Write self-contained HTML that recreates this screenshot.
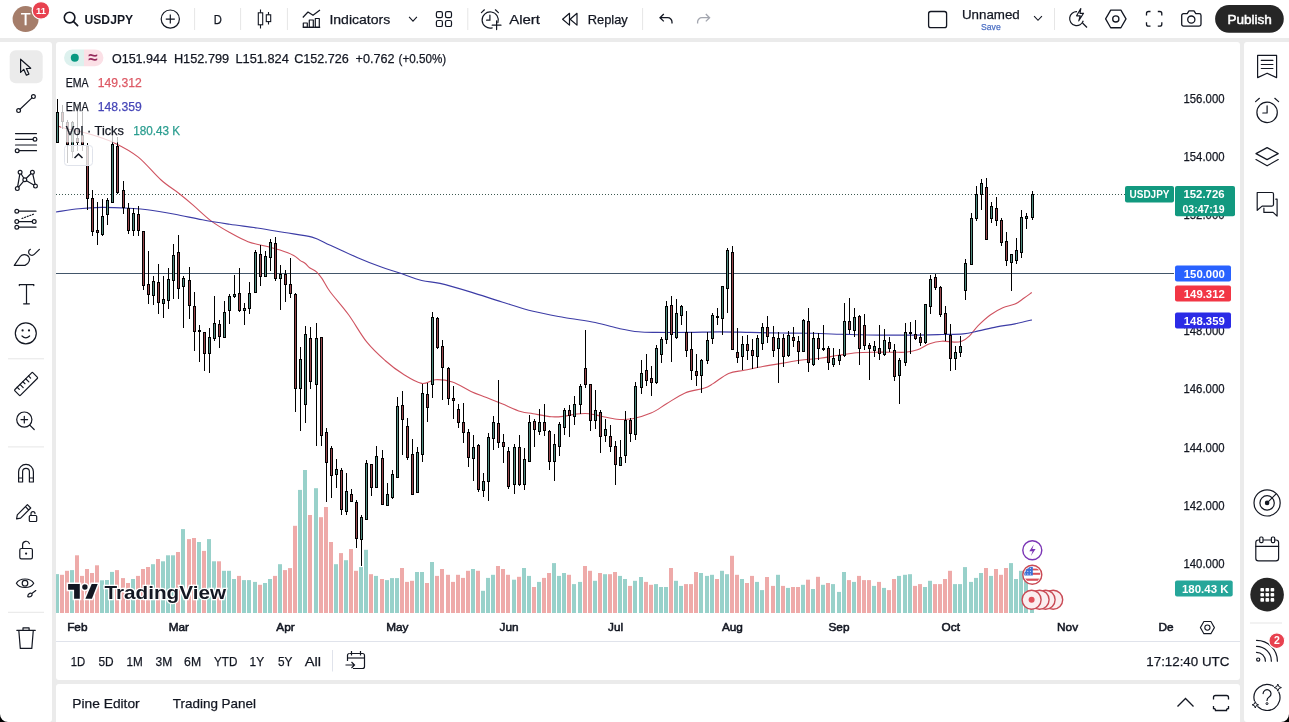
<!DOCTYPE html>
<html><head><meta charset="utf-8"><title>USDJPY chart</title>
<style>
html,body{margin:0;padding:0;background:#fff;width:1289px;height:722px;overflow:hidden}
svg{display:block}
text{font-family:'Liberation Sans', Arial, sans-serif;}
</style></head><body>
<svg width="1289" height="722" viewBox="0 0 1289 722">
<rect x="0" y="0" width="1289" height="722" fill="#ebebeb"/><rect x="0" y="0" width="1289" height="38" fill="#fff"/><rect x="0" y="42" width="52" height="680" fill="#fff" rx="3"/><rect x="0" y="42" width="8" height="680" fill="#fff"/><rect x="56" y="42" width="1184" height="638" fill="#fff" rx="3"/><rect x="56" y="684" width="1184" height="44" fill="#fff" rx="3"/><rect x="1244" y="42" width="45" height="680" fill="#fff" rx="3"/><rect x="1250" y="42" width="39" height="680" fill="#fff"/><defs><clipPath id="pane"><rect x="56" y="42" width="1118" height="571"/></clipPath><clipPath id="taxis"><rect x="56" y="613" width="1118" height="28"/></clipPath></defs><g clip-path="url(#pane)"><rect x="56" y="273" width="1119" height="1" fill="#42566a"/><line x1="56" y1="194.5" x2="1125" y2="194.5" stroke="#3d5a52" stroke-width="1" stroke-dasharray="1 2"/><rect x="55.0" y="574.1" width="4" height="38.9" fill="#98d1ca"/><rect x="60.0" y="574.8" width="4" height="38.2" fill="#eeaaa9"/><rect x="65.0" y="570.8" width="4" height="42.2" fill="#eeaaa9"/><rect x="70.0" y="570.1" width="4" height="42.9" fill="#98d1ca"/><rect x="75.0" y="555.3" width="4" height="57.7" fill="#eeaaa9"/><rect x="80.0" y="575.9" width="4" height="37.1" fill="#eeaaa9"/><rect x="85.0" y="569.0" width="4" height="44.0" fill="#eeaaa9"/><rect x="90.0" y="573.0" width="4" height="40.0" fill="#eeaaa9"/><rect x="95.0" y="565.3" width="4" height="47.7" fill="#eeaaa9"/><rect x="100.0" y="580.3" width="4" height="32.7" fill="#98d1ca"/><rect x="105.0" y="580.0" width="4" height="33.0" fill="#98d1ca"/><rect x="110.0" y="571.9" width="4" height="41.1" fill="#98d1ca"/><rect x="115.0" y="570.1" width="4" height="42.9" fill="#eeaaa9"/><rect x="121.0" y="578.1" width="4" height="34.9" fill="#eeaaa9"/><rect x="126.0" y="583.0" width="4" height="30.0" fill="#eeaaa9"/><rect x="131.0" y="579.0" width="4" height="34.0" fill="#98d1ca"/><rect x="136.0" y="575.9" width="4" height="37.1" fill="#eeaaa9"/><rect x="141.0" y="569.0" width="4" height="44.0" fill="#eeaaa9"/><rect x="146.0" y="567.0" width="4" height="46.0" fill="#eeaaa9"/><rect x="151.0" y="564.2" width="4" height="48.8" fill="#98d1ca"/><rect x="156.0" y="559.0" width="4" height="54.0" fill="#eeaaa9"/><rect x="161.0" y="561.3" width="4" height="51.7" fill="#98d1ca"/><rect x="166.0" y="555.3" width="4" height="57.7" fill="#98d1ca"/><rect x="171.0" y="555.3" width="4" height="57.7" fill="#98d1ca"/><rect x="176.0" y="552.0" width="4" height="61.0" fill="#eeaaa9"/><rect x="181.0" y="529.1" width="4" height="83.9" fill="#98d1ca"/><rect x="187.0" y="539.1" width="4" height="73.9" fill="#eeaaa9"/><rect x="192.0" y="538.0" width="4" height="75.0" fill="#eeaaa9"/><rect x="197.0" y="542.0" width="4" height="71.0" fill="#98d1ca"/><rect x="202.0" y="550.9" width="4" height="62.1" fill="#eeaaa9"/><rect x="207.0" y="539.1" width="4" height="73.9" fill="#98d1ca"/><rect x="212.0" y="561.3" width="4" height="51.7" fill="#98d1ca"/><rect x="217.0" y="561.3" width="4" height="51.7" fill="#eeaaa9"/><rect x="222.0" y="570.8" width="4" height="42.2" fill="#98d1ca"/><rect x="227.0" y="570.8" width="4" height="42.2" fill="#98d1ca"/><rect x="232.0" y="579.0" width="4" height="34.0" fill="#98d1ca"/><rect x="237.0" y="575.9" width="4" height="37.1" fill="#eeaaa9"/><rect x="242.0" y="580.1" width="4" height="32.9" fill="#98d1ca"/><rect x="247.0" y="580.1" width="4" height="32.9" fill="#98d1ca"/><rect x="253.0" y="581.9" width="4" height="31.1" fill="#98d1ca"/><rect x="258.0" y="584.8" width="4" height="28.2" fill="#eeaaa9"/><rect x="263.0" y="583.0" width="4" height="30.0" fill="#98d1ca"/><rect x="268.0" y="579.0" width="4" height="34.0" fill="#98d1ca"/><rect x="273.0" y="575.9" width="4" height="37.1" fill="#eeaaa9"/><rect x="278.0" y="564.2" width="4" height="48.8" fill="#98d1ca"/><rect x="283.0" y="570.1" width="4" height="42.9" fill="#eeaaa9"/><rect x="288.0" y="568.1" width="4" height="44.9" fill="#eeaaa9"/><rect x="293.0" y="525.8" width="4" height="87.2" fill="#eeaaa9"/><rect x="298.0" y="489.9" width="4" height="123.1" fill="#98d1ca"/><rect x="303.0" y="470.0" width="4" height="143.0" fill="#98d1ca"/><rect x="308.0" y="515.0" width="4" height="98.0" fill="#eeaaa9"/><rect x="314.0" y="488.2" width="4" height="124.8" fill="#98d1ca"/><rect x="319.0" y="517.2" width="4" height="95.8" fill="#eeaaa9"/><rect x="324.0" y="507.0" width="4" height="106.0" fill="#eeaaa9"/><rect x="329.0" y="542.0" width="4" height="71.0" fill="#eeaaa9"/><rect x="334.0" y="564.2" width="4" height="48.8" fill="#98d1ca"/><rect x="339.0" y="553.1" width="4" height="59.9" fill="#eeaaa9"/><rect x="344.0" y="560.2" width="4" height="52.8" fill="#98d1ca"/><rect x="349.0" y="549.1" width="4" height="63.9" fill="#eeaaa9"/><rect x="354.0" y="570.8" width="4" height="42.2" fill="#eeaaa9"/><rect x="359.0" y="567.1" width="4" height="45.9" fill="#98d1ca"/><rect x="364.0" y="549.8" width="4" height="63.2" fill="#98d1ca"/><rect x="369.0" y="574.2" width="4" height="38.8" fill="#eeaaa9"/><rect x="374.0" y="575.9" width="4" height="37.1" fill="#98d1ca"/><rect x="380.0" y="579.0" width="4" height="34.0" fill="#eeaaa9"/><rect x="385.0" y="580.1" width="4" height="32.9" fill="#98d1ca"/><rect x="390.0" y="578.1" width="4" height="34.9" fill="#98d1ca"/><rect x="395.0" y="578.1" width="4" height="34.9" fill="#98d1ca"/><rect x="400.0" y="568.0" width="4" height="45.0" fill="#eeaaa9"/><rect x="405.0" y="581.9" width="4" height="31.1" fill="#eeaaa9"/><rect x="410.0" y="580.8" width="4" height="32.2" fill="#eeaaa9"/><rect x="415.0" y="572.0" width="4" height="41.0" fill="#98d1ca"/><rect x="420.0" y="572.0" width="4" height="41.0" fill="#98d1ca"/><rect x="425.0" y="583.0" width="4" height="30.0" fill="#eeaaa9"/><rect x="430.0" y="562.0" width="4" height="51.0" fill="#98d1ca"/><rect x="435.0" y="575.9" width="4" height="37.1" fill="#eeaaa9"/><rect x="440.0" y="569.0" width="4" height="44.0" fill="#eeaaa9"/><rect x="446.0" y="574.8" width="4" height="38.2" fill="#eeaaa9"/><rect x="451.0" y="581.9" width="4" height="31.1" fill="#eeaaa9"/><rect x="456.0" y="574.8" width="4" height="38.2" fill="#eeaaa9"/><rect x="461.0" y="577.9" width="4" height="35.1" fill="#eeaaa9"/><rect x="466.0" y="570.8" width="4" height="42.2" fill="#eeaaa9"/><rect x="471.0" y="569.0" width="4" height="44.0" fill="#98d1ca"/><rect x="476.0" y="570.8" width="4" height="42.2" fill="#eeaaa9"/><rect x="481.0" y="590.8" width="4" height="22.2" fill="#98d1ca"/><rect x="486.0" y="577.9" width="4" height="35.1" fill="#98d1ca"/><rect x="491.0" y="574.8" width="4" height="38.2" fill="#98d1ca"/><rect x="496.0" y="566.0" width="4" height="47.0" fill="#eeaaa9"/><rect x="501.0" y="569.0" width="4" height="44.0" fill="#eeaaa9"/><rect x="506.0" y="574.8" width="4" height="38.2" fill="#eeaaa9"/><rect x="512.0" y="579.7" width="4" height="33.3" fill="#98d1ca"/><rect x="517.0" y="576.8" width="4" height="36.2" fill="#eeaaa9"/><rect x="522.0" y="568.0" width="4" height="45.0" fill="#98d1ca"/><rect x="527.0" y="575.9" width="4" height="37.1" fill="#98d1ca"/><rect x="532.0" y="587.0" width="4" height="26.0" fill="#eeaaa9"/><rect x="537.0" y="581.9" width="4" height="31.1" fill="#98d1ca"/><rect x="542.0" y="577.9" width="4" height="35.1" fill="#eeaaa9"/><rect x="547.0" y="573.0" width="4" height="40.0" fill="#eeaaa9"/><rect x="552.0" y="563.1" width="4" height="49.9" fill="#98d1ca"/><rect x="557.0" y="575.9" width="4" height="37.1" fill="#98d1ca"/><rect x="562.0" y="573.0" width="4" height="40.0" fill="#98d1ca"/><rect x="567.0" y="574.8" width="4" height="38.2" fill="#eeaaa9"/><rect x="572.0" y="584.1" width="4" height="28.9" fill="#98d1ca"/><rect x="578.0" y="581.9" width="4" height="31.1" fill="#98d1ca"/><rect x="583.0" y="566.0" width="4" height="47.0" fill="#eeaaa9"/><rect x="588.0" y="570.8" width="4" height="42.2" fill="#eeaaa9"/><rect x="593.0" y="580.8" width="4" height="32.2" fill="#98d1ca"/><rect x="598.0" y="573.0" width="4" height="40.0" fill="#eeaaa9"/><rect x="603.0" y="574.2" width="4" height="38.8" fill="#98d1ca"/><rect x="608.0" y="574.2" width="4" height="38.8" fill="#eeaaa9"/><rect x="613.0" y="572.0" width="4" height="41.0" fill="#eeaaa9"/><rect x="618.0" y="575.9" width="4" height="37.1" fill="#98d1ca"/><rect x="623.0" y="579.0" width="4" height="34.0" fill="#98d1ca"/><rect x="628.0" y="585.9" width="4" height="27.1" fill="#eeaaa9"/><rect x="633.0" y="580.8" width="4" height="32.2" fill="#98d1ca"/><rect x="639.0" y="577.0" width="4" height="36.0" fill="#98d1ca"/><rect x="644.0" y="581.9" width="4" height="31.1" fill="#eeaaa9"/><rect x="649.0" y="584.8" width="4" height="28.2" fill="#eeaaa9"/><rect x="654.0" y="584.1" width="4" height="28.9" fill="#98d1ca"/><rect x="659.0" y="587.0" width="4" height="26.0" fill="#98d1ca"/><rect x="664.0" y="587.0" width="4" height="26.0" fill="#98d1ca"/><rect x="669.0" y="568.0" width="4" height="45.0" fill="#eeaaa9"/><rect x="674.0" y="580.8" width="4" height="32.2" fill="#98d1ca"/><rect x="679.0" y="585.9" width="4" height="27.1" fill="#98d1ca"/><rect x="684.0" y="584.1" width="4" height="28.9" fill="#eeaaa9"/><rect x="689.0" y="584.1" width="4" height="28.9" fill="#eeaaa9"/><rect x="694.0" y="572.0" width="4" height="41.0" fill="#eeaaa9"/><rect x="699.0" y="573.0" width="4" height="40.0" fill="#98d1ca"/><rect x="705.0" y="575.9" width="4" height="37.1" fill="#98d1ca"/><rect x="710.0" y="574.8" width="4" height="38.2" fill="#98d1ca"/><rect x="715.0" y="579.0" width="4" height="34.0" fill="#eeaaa9"/><rect x="720.0" y="570.8" width="4" height="42.2" fill="#98d1ca"/><rect x="725.0" y="574.2" width="4" height="38.8" fill="#98d1ca"/><rect x="730.0" y="555.8" width="4" height="57.2" fill="#eeaaa9"/><rect x="735.0" y="574.8" width="4" height="38.2" fill="#eeaaa9"/><rect x="740.0" y="579.0" width="4" height="34.0" fill="#98d1ca"/><rect x="745.0" y="583.0" width="4" height="30.0" fill="#eeaaa9"/><rect x="750.0" y="575.9" width="4" height="37.1" fill="#eeaaa9"/><rect x="755.0" y="581.9" width="4" height="31.1" fill="#98d1ca"/><rect x="760.0" y="590.1" width="4" height="22.9" fill="#98d1ca"/><rect x="765.0" y="577.0" width="4" height="36.0" fill="#eeaaa9"/><rect x="771.0" y="585.9" width="4" height="27.1" fill="#eeaaa9"/><rect x="776.0" y="574.8" width="4" height="38.2" fill="#98d1ca"/><rect x="781.0" y="585.9" width="4" height="27.1" fill="#eeaaa9"/><rect x="786.0" y="587.9" width="4" height="25.1" fill="#98d1ca"/><rect x="791.0" y="587.0" width="4" height="26.0" fill="#eeaaa9"/><rect x="796.0" y="587.0" width="4" height="26.0" fill="#eeaaa9"/><rect x="801.0" y="584.8" width="4" height="28.2" fill="#98d1ca"/><rect x="806.0" y="579.7" width="4" height="33.3" fill="#eeaaa9"/><rect x="811.0" y="589.0" width="4" height="24.0" fill="#98d1ca"/><rect x="816.0" y="576.8" width="4" height="36.2" fill="#eeaaa9"/><rect x="821.0" y="584.8" width="4" height="28.2" fill="#98d1ca"/><rect x="826.0" y="583.0" width="4" height="30.0" fill="#eeaaa9"/><rect x="831.0" y="584.1" width="4" height="28.9" fill="#98d1ca"/><rect x="837.0" y="591.9" width="4" height="21.1" fill="#98d1ca"/><rect x="842.0" y="572.0" width="4" height="41.0" fill="#98d1ca"/><rect x="847.0" y="580.1" width="4" height="32.9" fill="#eeaaa9"/><rect x="852.0" y="581.9" width="4" height="31.1" fill="#98d1ca"/><rect x="857.0" y="575.9" width="4" height="37.1" fill="#eeaaa9"/><rect x="862.0" y="580.1" width="4" height="32.9" fill="#eeaaa9"/><rect x="867.0" y="580.1" width="4" height="32.9" fill="#eeaaa9"/><rect x="872.0" y="585.9" width="4" height="27.1" fill="#98d1ca"/><rect x="877.0" y="581.9" width="4" height="31.1" fill="#eeaaa9"/><rect x="882.0" y="587.9" width="4" height="25.1" fill="#98d1ca"/><rect x="887.0" y="590.1" width="4" height="22.9" fill="#eeaaa9"/><rect x="892.0" y="579.0" width="4" height="34.0" fill="#eeaaa9"/><rect x="897.0" y="575.9" width="4" height="37.1" fill="#98d1ca"/><rect x="903.0" y="574.8" width="4" height="38.2" fill="#98d1ca"/><rect x="908.0" y="574.2" width="4" height="38.8" fill="#98d1ca"/><rect x="913.0" y="585.9" width="4" height="27.1" fill="#eeaaa9"/><rect x="918.0" y="584.1" width="4" height="28.9" fill="#eeaaa9"/><rect x="923.0" y="587.0" width="4" height="26.0" fill="#98d1ca"/><rect x="928.0" y="580.8" width="4" height="32.2" fill="#98d1ca"/><rect x="933.0" y="584.1" width="4" height="28.9" fill="#eeaaa9"/><rect x="938.0" y="584.1" width="4" height="28.9" fill="#eeaaa9"/><rect x="943.0" y="579.0" width="4" height="34.0" fill="#eeaaa9"/><rect x="948.0" y="570.8" width="4" height="42.2" fill="#eeaaa9"/><rect x="953.0" y="584.1" width="4" height="28.9" fill="#98d1ca"/><rect x="958.0" y="584.1" width="4" height="28.9" fill="#98d1ca"/><rect x="963.0" y="567.1" width="4" height="45.9" fill="#98d1ca"/><rect x="969.0" y="581.9" width="4" height="31.1" fill="#98d1ca"/><rect x="974.0" y="577.9" width="4" height="35.1" fill="#98d1ca"/><rect x="979.0" y="573.0" width="4" height="40.0" fill="#98d1ca"/><rect x="984.0" y="568.0" width="4" height="45.0" fill="#eeaaa9"/><rect x="989.0" y="575.9" width="4" height="37.1" fill="#98d1ca"/><rect x="994.0" y="569.0" width="4" height="44.0" fill="#eeaaa9"/><rect x="999.0" y="574.8" width="4" height="38.2" fill="#eeaaa9"/><rect x="1004.0" y="568.0" width="4" height="45.0" fill="#eeaaa9"/><rect x="1009.0" y="563.1" width="4" height="49.9" fill="#98d1ca"/><rect x="1014.0" y="579.0" width="4" height="34.0" fill="#98d1ca"/><rect x="1019.0" y="570.8" width="4" height="42.2" fill="#98d1ca"/><rect x="1024.0" y="575.0" width="4" height="38.0" fill="#98d1ca"/><rect x="1030.0" y="605.0" width="4" height="8.0" fill="#98d1ca"/><path d="M56.0,125.0 C57.5,125.5 59.3,126.8 65.0,128.3 C70.7,129.9 81.9,131.8 90.3,134.3 C98.7,136.8 107.4,139.6 115.4,143.4 C123.4,147.2 130.7,151.0 138.3,157.1 C145.9,163.2 154.2,173.9 161.1,180.0 C167.9,186.1 174.1,189.5 179.4,193.7 C184.7,197.9 187.8,200.5 193.1,205.1 C198.4,209.7 205.3,216.5 211.4,221.1 C217.5,225.7 223.6,229.1 229.7,232.5 C235.8,235.9 241.9,239.4 248.0,241.7 C254.1,244.0 261.0,244.9 266.3,246.3 C271.6,247.7 275.4,248.5 280.0,250.0 C284.6,251.5 290.4,253.7 293.7,255.4 C297.0,257.1 298.1,259.1 300.0,260.4 C301.9,261.7 303.4,262.1 305.0,263.3 C306.6,264.5 307.9,266.6 309.6,267.8 C311.3,269.1 313.5,269.8 315.0,270.8 C316.5,271.8 317.3,272.6 318.5,274.0 C319.7,275.4 320.4,276.1 322.4,279.1 C324.4,282.1 325.9,286.1 330.3,292.0 C334.7,297.9 342.5,306.4 348.6,314.8 C354.7,323.2 360.8,334.6 366.9,342.2 C373.0,349.8 379.0,355.1 385.1,360.5 C391.2,365.9 397.3,370.5 403.4,374.3 C409.5,378.1 416.4,382.5 421.7,383.4 C427.0,384.3 430.3,379.9 435.4,379.7 C440.5,379.5 446.5,380.1 452.4,382.0 C458.3,383.9 465.3,388.8 471.0,391.4 C476.7,394.0 481.3,395.5 486.5,397.6 C491.7,399.7 496.3,401.5 502.0,403.8 C507.7,406.1 515.5,409.9 520.7,411.5 C525.9,413.1 527.9,412.8 533.1,413.7 C538.3,414.6 546.5,416.4 551.7,416.8 C556.9,417.2 560.0,416.7 564.1,416.2 C568.2,415.7 572.4,414.4 576.5,414.0 C580.6,413.6 584.9,413.3 589.0,413.7 C593.1,414.1 596.8,415.3 601.4,416.2 C606.0,417.1 611.7,418.9 616.9,419.3 C622.1,419.7 626.7,419.7 632.4,418.7 C638.1,417.7 645.3,415.6 651.0,413.1 C656.7,410.6 660.8,407.2 666.5,403.8 C672.2,400.4 678.9,395.5 685.1,392.9 C691.3,390.3 699.1,389.9 703.8,388.3 C708.5,386.8 709.0,386.1 713.1,383.6 C717.2,381.1 723.4,375.6 728.6,373.4 C733.8,371.2 738.4,371.4 744.1,370.3 C749.8,369.2 756.5,367.6 762.7,366.5 C768.9,365.4 775.1,364.4 781.3,363.4 C787.5,362.4 793.5,361.1 800.0,360.3 C806.5,359.5 813.6,359.1 820.0,358.3 C826.4,357.5 832.2,356.2 838.3,355.3 C844.4,354.4 850.5,353.3 856.6,352.8 C862.7,352.3 868.7,352.3 874.8,352.2 C880.9,352.1 888.0,352.2 893.1,352.2 C898.2,352.2 901.2,352.6 905.3,352.2 C909.4,351.8 913.4,351.2 917.5,349.8 C921.6,348.4 925.7,345.1 929.7,343.7 C933.8,342.3 937.8,341.5 941.8,341.2 C945.8,340.9 950.7,342.1 954.0,342.1 C957.3,342.1 959.2,342.2 961.7,341.2 C964.2,340.2 966.5,338.7 969.3,336.1 C972.1,333.5 974.8,329.0 978.4,325.4 C982.0,321.8 986.5,317.6 990.6,314.7 C994.7,311.8 998.7,309.5 1002.8,307.7 C1006.9,305.9 1011.5,305.7 1015.0,304.1 C1018.5,302.5 1021.3,299.9 1024.1,298.0 C1026.9,296.1 1030.5,293.4 1031.8,292.5" fill="none" stroke="#cf5360" stroke-width="1.1" stroke-linejoin="round"/><path d="M56.0,212.0 C59.8,211.5 71.3,209.6 78.9,208.8 C86.5,208.0 93.3,207.5 101.7,207.4 C110.1,207.3 121.5,207.9 129.1,208.3 C136.7,208.7 139.8,208.7 147.4,209.7 C155.0,210.7 165.8,212.6 174.9,214.3 C184.1,216.0 193.2,218.1 202.3,219.8 C211.4,221.5 220.6,222.9 229.7,224.3 C238.8,225.7 248.0,226.6 257.1,228.0 C266.2,229.4 275.5,231.0 284.6,232.5 C293.8,234.0 304.4,235.0 312.0,237.1 C319.6,239.2 322.7,241.9 330.3,245.3 C337.9,248.7 349.3,254.1 357.7,257.7 C366.1,261.3 373.7,264.3 380.6,266.8 C387.5,269.3 392.0,270.5 398.9,272.8 C405.8,275.1 414.8,278.7 421.7,280.5 C428.6,282.3 431.8,281.5 440.0,283.4 C448.2,285.3 460.7,289.0 471.0,292.1 C481.3,295.2 491.6,298.8 502.0,302.0 C512.4,305.2 522.8,308.7 533.1,311.3 C543.5,313.9 553.8,315.6 564.1,317.5 C574.5,319.4 585.9,320.6 595.2,322.5 C604.5,324.4 612.8,327.1 620.0,328.7 C627.2,330.2 632.4,331.2 638.6,331.8 C644.8,332.4 648.9,332.3 657.2,332.4 C665.5,332.5 677.9,332.5 688.3,332.4 C698.6,332.3 709.0,331.8 719.3,331.8 C729.6,331.8 740.0,332.2 750.3,332.4 C760.6,332.6 770.9,332.9 781.3,333.0 C791.6,333.1 802.6,333.1 812.4,333.3 C822.2,333.5 833.6,334.1 840.0,334.3 C846.4,334.5 843.7,334.4 850.5,334.5 C857.3,334.6 870.8,335.0 880.9,335.1 C891.0,335.2 901.2,335.2 911.4,335.1 C921.5,335.0 933.2,334.7 941.8,334.5 C950.4,334.3 957.1,334.5 963.2,333.9 C969.3,333.3 972.8,332.1 978.4,330.9 C984.0,329.7 990.6,328.1 996.7,326.9 C1002.8,325.7 1009.1,325.1 1015.0,323.9 C1020.9,322.7 1029.0,320.6 1031.8,319.9" fill="none" stroke="#3c3ca6" stroke-width="1.15" stroke-linejoin="round"/><rect x="57" y="99" width="1" height="43" fill="#000"/><rect x="56" y="112" width="3" height="31" fill="#000"/><rect x="57" y="113" width="1" height="29" fill="#4f8a7e"/><rect x="62" y="105" width="1" height="24" fill="#000"/><rect x="61" y="112" width="3" height="10" fill="#000"/><rect x="62" y="113" width="1" height="8" fill="#96464c"/><rect x="67" y="120" width="1" height="43" fill="#000"/><rect x="66" y="122" width="3" height="23" fill="#000"/><rect x="67" y="123" width="1" height="21" fill="#96464c"/><rect x="72" y="121" width="1" height="37" fill="#000"/><rect x="71" y="122" width="3" height="30" fill="#000"/><rect x="72" y="123" width="1" height="28" fill="#4f8a7e"/><rect x="77" y="104" width="1" height="47" fill="#000"/><rect x="76" y="138" width="3" height="5" fill="#000"/><rect x="77" y="139" width="1" height="3" fill="#96464c"/><rect x="82" y="112" width="1" height="39" fill="#000"/><rect x="81" y="135" width="3" height="10" fill="#000"/><rect x="82" y="136" width="1" height="8" fill="#96464c"/><rect x="87" y="143" width="1" height="67" fill="#000"/><rect x="86" y="146" width="3" height="53" fill="#000"/><rect x="87" y="147" width="1" height="51" fill="#96464c"/><rect x="92" y="190" width="1" height="46" fill="#000"/><rect x="91" y="198" width="3" height="34" fill="#000"/><rect x="92" y="199" width="1" height="32" fill="#96464c"/><rect x="97" y="202" width="1" height="43" fill="#000"/><rect x="96" y="230" width="3" height="3" fill="#000"/><rect x="97" y="231" width="1" height="1" fill="#96464c"/><rect x="102" y="199" width="1" height="37" fill="#000"/><rect x="101" y="216" width="3" height="19" fill="#000"/><rect x="102" y="217" width="1" height="17" fill="#4f8a7e"/><rect x="107" y="198" width="1" height="27" fill="#000"/><rect x="106" y="200" width="3" height="15" fill="#000"/><rect x="107" y="201" width="1" height="13" fill="#4f8a7e"/><rect x="112" y="134" width="1" height="69" fill="#000"/><rect x="111" y="144" width="3" height="59" fill="#000"/><rect x="112" y="145" width="1" height="57" fill="#4f8a7e"/><rect x="117" y="137" width="1" height="57" fill="#000"/><rect x="116" y="146" width="3" height="47" fill="#000"/><rect x="117" y="147" width="1" height="45" fill="#96464c"/><rect x="123" y="181" width="1" height="33" fill="#000"/><rect x="122" y="190" width="3" height="18" fill="#000"/><rect x="123" y="191" width="1" height="16" fill="#96464c"/><rect x="128" y="203" width="1" height="31" fill="#000"/><rect x="127" y="208" width="3" height="23" fill="#000"/><rect x="128" y="209" width="1" height="21" fill="#96464c"/><rect x="133" y="208" width="1" height="28" fill="#000"/><rect x="132" y="213" width="3" height="18" fill="#000"/><rect x="133" y="214" width="1" height="16" fill="#4f8a7e"/><rect x="138" y="206" width="1" height="30" fill="#000"/><rect x="137" y="214" width="3" height="17" fill="#000"/><rect x="138" y="215" width="1" height="15" fill="#96464c"/><rect x="143" y="231" width="1" height="59" fill="#000"/><rect x="142" y="231" width="3" height="55" fill="#000"/><rect x="143" y="232" width="1" height="53" fill="#96464c"/><rect x="148" y="251" width="1" height="53" fill="#000"/><rect x="147" y="284" width="3" height="11" fill="#000"/><rect x="148" y="285" width="1" height="9" fill="#96464c"/><rect x="153" y="276" width="1" height="29" fill="#000"/><rect x="152" y="281" width="3" height="15" fill="#000"/><rect x="153" y="282" width="1" height="13" fill="#4f8a7e"/><rect x="158" y="264" width="1" height="50" fill="#000"/><rect x="157" y="282" width="3" height="21" fill="#000"/><rect x="158" y="283" width="1" height="19" fill="#96464c"/><rect x="163" y="276" width="1" height="42" fill="#000"/><rect x="162" y="299" width="3" height="5" fill="#000"/><rect x="163" y="300" width="1" height="3" fill="#4f8a7e"/><rect x="168" y="268" width="1" height="41" fill="#000"/><rect x="167" y="279" width="3" height="22" fill="#000"/><rect x="168" y="280" width="1" height="20" fill="#4f8a7e"/><rect x="173" y="244" width="1" height="55" fill="#000"/><rect x="172" y="255" width="3" height="26" fill="#000"/><rect x="173" y="256" width="1" height="24" fill="#4f8a7e"/><rect x="178" y="235" width="1" height="64" fill="#000"/><rect x="177" y="252" width="3" height="37" fill="#000"/><rect x="178" y="253" width="1" height="35" fill="#96464c"/><rect x="183" y="276" width="1" height="52" fill="#000"/><rect x="182" y="278" width="3" height="9" fill="#000"/><rect x="183" y="279" width="1" height="7" fill="#4f8a7e"/><rect x="189" y="267" width="1" height="52" fill="#000"/><rect x="188" y="280" width="3" height="26" fill="#000"/><rect x="189" y="281" width="1" height="24" fill="#96464c"/><rect x="194" y="292" width="1" height="59" fill="#000"/><rect x="193" y="306" width="3" height="26" fill="#000"/><rect x="194" y="307" width="1" height="24" fill="#96464c"/><rect x="199" y="325" width="1" height="37" fill="#000"/><rect x="198" y="330" width="3" height="2" fill="#000"/><rect x="204" y="332" width="1" height="39" fill="#000"/><rect x="203" y="332" width="3" height="22" fill="#000"/><rect x="204" y="333" width="1" height="20" fill="#96464c"/><rect x="209" y="328" width="1" height="45" fill="#000"/><rect x="208" y="337" width="3" height="17" fill="#000"/><rect x="209" y="338" width="1" height="15" fill="#4f8a7e"/><rect x="214" y="296" width="1" height="45" fill="#000"/><rect x="213" y="323" width="3" height="16" fill="#000"/><rect x="214" y="324" width="1" height="14" fill="#4f8a7e"/><rect x="219" y="320" width="1" height="28" fill="#000"/><rect x="218" y="324" width="3" height="13" fill="#000"/><rect x="219" y="325" width="1" height="11" fill="#96464c"/><rect x="224" y="301" width="1" height="36" fill="#000"/><rect x="223" y="312" width="3" height="26" fill="#000"/><rect x="224" y="313" width="1" height="24" fill="#4f8a7e"/><rect x="229" y="294" width="1" height="30" fill="#000"/><rect x="228" y="296" width="3" height="15" fill="#000"/><rect x="229" y="297" width="1" height="13" fill="#4f8a7e"/><rect x="234" y="275" width="1" height="23" fill="#000"/><rect x="233" y="294" width="3" height="3" fill="#000"/><rect x="234" y="295" width="1" height="1" fill="#4f8a7e"/><rect x="239" y="268" width="1" height="44" fill="#000"/><rect x="238" y="293" width="3" height="18" fill="#000"/><rect x="239" y="294" width="1" height="16" fill="#96464c"/><rect x="244" y="303" width="1" height="22" fill="#000"/><rect x="243" y="308" width="3" height="3" fill="#000"/><rect x="244" y="309" width="1" height="1" fill="#4f8a7e"/><rect x="249" y="282" width="1" height="32" fill="#000"/><rect x="248" y="293" width="3" height="16" fill="#000"/><rect x="249" y="294" width="1" height="14" fill="#4f8a7e"/><rect x="255" y="250" width="1" height="42" fill="#000"/><rect x="254" y="252" width="3" height="41" fill="#000"/><rect x="255" y="253" width="1" height="39" fill="#4f8a7e"/><rect x="260" y="245" width="1" height="41" fill="#000"/><rect x="259" y="254" width="3" height="23" fill="#000"/><rect x="260" y="255" width="1" height="21" fill="#96464c"/><rect x="265" y="251" width="1" height="25" fill="#000"/><rect x="264" y="256" width="3" height="21" fill="#000"/><rect x="265" y="257" width="1" height="19" fill="#4f8a7e"/><rect x="270" y="239" width="1" height="32" fill="#000"/><rect x="269" y="242" width="3" height="16" fill="#000"/><rect x="270" y="243" width="1" height="14" fill="#4f8a7e"/><rect x="275" y="237" width="1" height="44" fill="#000"/><rect x="274" y="243" width="3" height="36" fill="#000"/><rect x="275" y="244" width="1" height="34" fill="#96464c"/><rect x="280" y="265" width="1" height="45" fill="#000"/><rect x="279" y="274" width="3" height="5" fill="#000"/><rect x="280" y="275" width="1" height="3" fill="#4f8a7e"/><rect x="285" y="270" width="1" height="32" fill="#000"/><rect x="284" y="274" width="3" height="11" fill="#000"/><rect x="285" y="275" width="1" height="9" fill="#96464c"/><rect x="290" y="258" width="1" height="40" fill="#000"/><rect x="289" y="284" width="3" height="10" fill="#000"/><rect x="290" y="285" width="1" height="8" fill="#96464c"/><rect x="295" y="293" width="1" height="119" fill="#000"/><rect x="294" y="294" width="3" height="95" fill="#000"/><rect x="295" y="295" width="1" height="93" fill="#96464c"/><rect x="300" y="347" width="1" height="84" fill="#000"/><rect x="299" y="359" width="3" height="30" fill="#000"/><rect x="300" y="360" width="1" height="28" fill="#4f8a7e"/><rect x="305" y="326" width="1" height="97" fill="#000"/><rect x="304" y="334" width="3" height="71" fill="#000"/><rect x="305" y="335" width="1" height="69" fill="#4f8a7e"/><rect x="310" y="327" width="1" height="62" fill="#000"/><rect x="309" y="338" width="3" height="44" fill="#000"/><rect x="310" y="339" width="1" height="42" fill="#96464c"/><rect x="316" y="323" width="1" height="123" fill="#000"/><rect x="315" y="338" width="3" height="47" fill="#000"/><rect x="316" y="339" width="1" height="45" fill="#4f8a7e"/><rect x="321" y="337" width="1" height="109" fill="#000"/><rect x="320" y="337" width="3" height="99" fill="#000"/><rect x="321" y="338" width="1" height="97" fill="#96464c"/><rect x="326" y="428" width="1" height="74" fill="#000"/><rect x="325" y="432" width="3" height="31" fill="#000"/><rect x="326" y="433" width="1" height="29" fill="#96464c"/><rect x="331" y="446" width="1" height="52" fill="#000"/><rect x="330" y="448" width="3" height="28" fill="#000"/><rect x="331" y="449" width="1" height="26" fill="#96464c"/><rect x="336" y="459" width="1" height="29" fill="#000"/><rect x="335" y="469" width="3" height="6" fill="#000"/><rect x="336" y="470" width="1" height="4" fill="#4f8a7e"/><rect x="341" y="468" width="1" height="47" fill="#000"/><rect x="340" y="470" width="3" height="40" fill="#000"/><rect x="341" y="471" width="1" height="38" fill="#96464c"/><rect x="346" y="473" width="1" height="42" fill="#000"/><rect x="345" y="491" width="3" height="21" fill="#000"/><rect x="346" y="492" width="1" height="19" fill="#4f8a7e"/><rect x="351" y="489" width="1" height="13" fill="#000"/><rect x="350" y="494" width="3" height="8" fill="#000"/><rect x="351" y="495" width="1" height="6" fill="#96464c"/><rect x="356" y="500" width="1" height="48" fill="#000"/><rect x="355" y="502" width="3" height="37" fill="#000"/><rect x="356" y="503" width="1" height="35" fill="#96464c"/><rect x="361" y="515" width="1" height="51" fill="#000"/><rect x="360" y="517" width="3" height="23" fill="#000"/><rect x="361" y="518" width="1" height="21" fill="#4f8a7e"/><rect x="366" y="460" width="1" height="59" fill="#000"/><rect x="365" y="463" width="3" height="57" fill="#000"/><rect x="366" y="464" width="1" height="55" fill="#4f8a7e"/><rect x="371" y="464" width="1" height="32" fill="#000"/><rect x="370" y="464" width="3" height="24" fill="#000"/><rect x="371" y="465" width="1" height="22" fill="#96464c"/><rect x="376" y="446" width="1" height="41" fill="#000"/><rect x="375" y="456" width="3" height="32" fill="#000"/><rect x="376" y="457" width="1" height="30" fill="#4f8a7e"/><rect x="382" y="450" width="1" height="54" fill="#000"/><rect x="381" y="458" width="3" height="47" fill="#000"/><rect x="382" y="459" width="1" height="45" fill="#96464c"/><rect x="387" y="483" width="1" height="23" fill="#000"/><rect x="386" y="494" width="3" height="12" fill="#000"/><rect x="387" y="495" width="1" height="10" fill="#4f8a7e"/><rect x="392" y="470" width="1" height="29" fill="#000"/><rect x="391" y="474" width="3" height="24" fill="#000"/><rect x="392" y="475" width="1" height="22" fill="#4f8a7e"/><rect x="397" y="397" width="1" height="81" fill="#000"/><rect x="396" y="406" width="3" height="72" fill="#000"/><rect x="397" y="407" width="1" height="70" fill="#4f8a7e"/><rect x="402" y="391" width="1" height="64" fill="#000"/><rect x="401" y="405" width="3" height="15" fill="#000"/><rect x="402" y="406" width="1" height="13" fill="#96464c"/><rect x="407" y="418" width="1" height="42" fill="#000"/><rect x="406" y="426" width="3" height="32" fill="#000"/><rect x="407" y="427" width="1" height="30" fill="#96464c"/><rect x="412" y="439" width="1" height="55" fill="#000"/><rect x="411" y="454" width="3" height="41" fill="#000"/><rect x="412" y="455" width="1" height="39" fill="#96464c"/><rect x="417" y="447" width="1" height="46" fill="#000"/><rect x="416" y="452" width="3" height="41" fill="#000"/><rect x="417" y="453" width="1" height="39" fill="#4f8a7e"/><rect x="422" y="384" width="1" height="78" fill="#000"/><rect x="421" y="393" width="3" height="62" fill="#000"/><rect x="422" y="394" width="1" height="60" fill="#4f8a7e"/><rect x="427" y="383" width="1" height="39" fill="#000"/><rect x="426" y="394" width="3" height="14" fill="#000"/><rect x="427" y="395" width="1" height="12" fill="#96464c"/><rect x="432" y="312" width="1" height="86" fill="#000"/><rect x="431" y="317" width="3" height="68" fill="#000"/><rect x="432" y="318" width="1" height="66" fill="#4f8a7e"/><rect x="437" y="317" width="1" height="32" fill="#000"/><rect x="436" y="318" width="3" height="30" fill="#000"/><rect x="437" y="319" width="1" height="28" fill="#96464c"/><rect x="442" y="340" width="1" height="60" fill="#000"/><rect x="441" y="346" width="3" height="22" fill="#000"/><rect x="442" y="347" width="1" height="20" fill="#96464c"/><rect x="448" y="367" width="1" height="38" fill="#000"/><rect x="447" y="368" width="3" height="31" fill="#000"/><rect x="448" y="369" width="1" height="29" fill="#96464c"/><rect x="453" y="386" width="1" height="33" fill="#000"/><rect x="452" y="398" width="3" height="3" fill="#000"/><rect x="453" y="399" width="1" height="1" fill="#96464c"/><rect x="458" y="404" width="1" height="24" fill="#000"/><rect x="457" y="409" width="3" height="14" fill="#000"/><rect x="458" y="410" width="1" height="12" fill="#96464c"/><rect x="463" y="403" width="1" height="40" fill="#000"/><rect x="462" y="422" width="3" height="11" fill="#000"/><rect x="463" y="423" width="1" height="9" fill="#96464c"/><rect x="468" y="429" width="1" height="38" fill="#000"/><rect x="467" y="432" width="3" height="26" fill="#000"/><rect x="468" y="433" width="1" height="24" fill="#96464c"/><rect x="473" y="435" width="1" height="46" fill="#000"/><rect x="472" y="447" width="3" height="12" fill="#000"/><rect x="473" y="448" width="1" height="10" fill="#4f8a7e"/><rect x="478" y="444" width="1" height="48" fill="#000"/><rect x="477" y="445" width="3" height="45" fill="#000"/><rect x="478" y="446" width="1" height="43" fill="#96464c"/><rect x="483" y="473" width="1" height="24" fill="#000"/><rect x="482" y="481" width="3" height="10" fill="#000"/><rect x="483" y="482" width="1" height="8" fill="#4f8a7e"/><rect x="488" y="433" width="1" height="68" fill="#000"/><rect x="487" y="437" width="3" height="45" fill="#000"/><rect x="488" y="438" width="1" height="43" fill="#4f8a7e"/><rect x="493" y="416" width="1" height="34" fill="#000"/><rect x="492" y="422" width="3" height="17" fill="#000"/><rect x="493" y="423" width="1" height="15" fill="#4f8a7e"/><rect x="498" y="380" width="1" height="68" fill="#000"/><rect x="497" y="423" width="3" height="20" fill="#000"/><rect x="498" y="424" width="1" height="18" fill="#96464c"/><rect x="503" y="434" width="1" height="29" fill="#000"/><rect x="502" y="442" width="3" height="5" fill="#000"/><rect x="503" y="443" width="1" height="3" fill="#96464c"/><rect x="508" y="447" width="1" height="42" fill="#000"/><rect x="507" y="451" width="3" height="36" fill="#000"/><rect x="508" y="452" width="1" height="34" fill="#96464c"/><rect x="514" y="444" width="1" height="50" fill="#000"/><rect x="513" y="447" width="3" height="38" fill="#000"/><rect x="514" y="448" width="1" height="36" fill="#4f8a7e"/><rect x="519" y="435" width="1" height="51" fill="#000"/><rect x="518" y="447" width="3" height="38" fill="#000"/><rect x="519" y="448" width="1" height="36" fill="#96464c"/><rect x="524" y="448" width="1" height="42" fill="#000"/><rect x="523" y="459" width="3" height="26" fill="#000"/><rect x="524" y="460" width="1" height="24" fill="#4f8a7e"/><rect x="529" y="415" width="1" height="47" fill="#000"/><rect x="528" y="422" width="3" height="40" fill="#000"/><rect x="529" y="423" width="1" height="38" fill="#4f8a7e"/><rect x="534" y="419" width="1" height="28" fill="#000"/><rect x="533" y="421" width="3" height="9" fill="#000"/><rect x="534" y="422" width="1" height="7" fill="#96464c"/><rect x="539" y="409" width="1" height="26" fill="#000"/><rect x="538" y="422" width="3" height="10" fill="#000"/><rect x="539" y="423" width="1" height="8" fill="#4f8a7e"/><rect x="544" y="404" width="1" height="32" fill="#000"/><rect x="543" y="422" width="3" height="9" fill="#000"/><rect x="544" y="423" width="1" height="7" fill="#96464c"/><rect x="549" y="430" width="1" height="40" fill="#000"/><rect x="548" y="431" width="3" height="31" fill="#000"/><rect x="549" y="432" width="1" height="29" fill="#96464c"/><rect x="554" y="434" width="1" height="47" fill="#000"/><rect x="553" y="444" width="3" height="18" fill="#000"/><rect x="554" y="445" width="1" height="16" fill="#4f8a7e"/><rect x="559" y="422" width="1" height="34" fill="#000"/><rect x="558" y="424" width="3" height="23" fill="#000"/><rect x="559" y="425" width="1" height="21" fill="#4f8a7e"/><rect x="564" y="408" width="1" height="27" fill="#000"/><rect x="563" y="410" width="3" height="18" fill="#000"/><rect x="564" y="411" width="1" height="16" fill="#4f8a7e"/><rect x="569" y="405" width="1" height="32" fill="#000"/><rect x="568" y="410" width="3" height="6" fill="#000"/><rect x="569" y="411" width="1" height="4" fill="#96464c"/><rect x="574" y="396" width="1" height="29" fill="#000"/><rect x="573" y="404" width="3" height="13" fill="#000"/><rect x="574" y="405" width="1" height="11" fill="#4f8a7e"/><rect x="580" y="384" width="1" height="30" fill="#000"/><rect x="579" y="386" width="3" height="19" fill="#000"/><rect x="580" y="387" width="1" height="17" fill="#4f8a7e"/><rect x="585" y="330" width="1" height="58" fill="#000"/><rect x="584" y="368" width="3" height="17" fill="#000"/><rect x="585" y="369" width="1" height="15" fill="#96464c"/><rect x="590" y="384" width="1" height="47" fill="#000"/><rect x="589" y="384" width="3" height="37" fill="#000"/><rect x="590" y="385" width="1" height="35" fill="#96464c"/><rect x="595" y="390" width="1" height="39" fill="#000"/><rect x="594" y="410" width="3" height="11" fill="#000"/><rect x="595" y="411" width="1" height="9" fill="#4f8a7e"/><rect x="600" y="410" width="1" height="43" fill="#000"/><rect x="599" y="412" width="3" height="25" fill="#000"/><rect x="600" y="413" width="1" height="23" fill="#96464c"/><rect x="605" y="419" width="1" height="23" fill="#000"/><rect x="604" y="429" width="3" height="7" fill="#000"/><rect x="605" y="430" width="1" height="5" fill="#4f8a7e"/><rect x="610" y="425" width="1" height="27" fill="#000"/><rect x="609" y="436" width="3" height="11" fill="#000"/><rect x="610" y="437" width="1" height="9" fill="#96464c"/><rect x="615" y="441" width="1" height="44" fill="#000"/><rect x="614" y="446" width="3" height="19" fill="#000"/><rect x="615" y="447" width="1" height="17" fill="#96464c"/><rect x="620" y="440" width="1" height="26" fill="#000"/><rect x="619" y="457" width="3" height="9" fill="#000"/><rect x="620" y="458" width="1" height="7" fill="#4f8a7e"/><rect x="625" y="411" width="1" height="52" fill="#000"/><rect x="624" y="420" width="3" height="36" fill="#000"/><rect x="625" y="421" width="1" height="34" fill="#4f8a7e"/><rect x="630" y="418" width="1" height="24" fill="#000"/><rect x="629" y="420" width="3" height="14" fill="#000"/><rect x="630" y="421" width="1" height="12" fill="#96464c"/><rect x="635" y="382" width="1" height="58" fill="#000"/><rect x="634" y="386" width="3" height="49" fill="#000"/><rect x="635" y="387" width="1" height="47" fill="#4f8a7e"/><rect x="641" y="360" width="1" height="34" fill="#000"/><rect x="640" y="373" width="3" height="15" fill="#000"/><rect x="641" y="374" width="1" height="13" fill="#4f8a7e"/><rect x="646" y="354" width="1" height="32" fill="#000"/><rect x="645" y="370" width="3" height="11" fill="#000"/><rect x="646" y="371" width="1" height="9" fill="#96464c"/><rect x="651" y="366" width="1" height="30" fill="#000"/><rect x="650" y="378" width="3" height="5" fill="#000"/><rect x="651" y="379" width="1" height="3" fill="#96464c"/><rect x="656" y="345" width="1" height="39" fill="#000"/><rect x="655" y="348" width="3" height="35" fill="#000"/><rect x="656" y="349" width="1" height="33" fill="#4f8a7e"/><rect x="661" y="337" width="1" height="26" fill="#000"/><rect x="660" y="339" width="3" height="16" fill="#000"/><rect x="661" y="340" width="1" height="14" fill="#4f8a7e"/><rect x="666" y="301" width="1" height="43" fill="#000"/><rect x="665" y="306" width="3" height="34" fill="#000"/><rect x="666" y="307" width="1" height="32" fill="#4f8a7e"/><rect x="671" y="296" width="1" height="66" fill="#000"/><rect x="670" y="305" width="3" height="30" fill="#000"/><rect x="671" y="306" width="1" height="28" fill="#96464c"/><rect x="676" y="299" width="1" height="40" fill="#000"/><rect x="675" y="313" width="3" height="25" fill="#000"/><rect x="676" y="314" width="1" height="23" fill="#4f8a7e"/><rect x="681" y="305" width="1" height="20" fill="#000"/><rect x="680" y="306" width="3" height="10" fill="#000"/><rect x="681" y="307" width="1" height="8" fill="#4f8a7e"/><rect x="686" y="311" width="1" height="46" fill="#000"/><rect x="685" y="332" width="3" height="19" fill="#000"/><rect x="686" y="333" width="1" height="17" fill="#96464c"/><rect x="691" y="332" width="1" height="48" fill="#000"/><rect x="690" y="349" width="3" height="22" fill="#000"/><rect x="691" y="350" width="1" height="20" fill="#96464c"/><rect x="696" y="354" width="1" height="32" fill="#000"/><rect x="695" y="371" width="3" height="5" fill="#000"/><rect x="696" y="372" width="1" height="3" fill="#96464c"/><rect x="701" y="359" width="1" height="34" fill="#000"/><rect x="700" y="360" width="3" height="16" fill="#000"/><rect x="701" y="361" width="1" height="14" fill="#4f8a7e"/><rect x="707" y="332" width="1" height="32" fill="#000"/><rect x="706" y="340" width="3" height="21" fill="#000"/><rect x="707" y="341" width="1" height="19" fill="#4f8a7e"/><rect x="712" y="313" width="1" height="31" fill="#000"/><rect x="711" y="315" width="3" height="24" fill="#000"/><rect x="712" y="316" width="1" height="22" fill="#4f8a7e"/><rect x="717" y="308" width="1" height="17" fill="#000"/><rect x="716" y="316" width="3" height="2" fill="#000"/><rect x="722" y="286" width="1" height="49" fill="#000"/><rect x="721" y="286" width="3" height="33" fill="#000"/><rect x="722" y="287" width="1" height="31" fill="#4f8a7e"/><rect x="727" y="248" width="1" height="65" fill="#000"/><rect x="726" y="250" width="3" height="39" fill="#000"/><rect x="727" y="251" width="1" height="37" fill="#4f8a7e"/><rect x="732" y="246" width="1" height="104" fill="#000"/><rect x="731" y="252" width="3" height="98" fill="#000"/><rect x="732" y="253" width="1" height="96" fill="#96464c"/><rect x="737" y="328" width="1" height="35" fill="#000"/><rect x="736" y="352" width="3" height="6" fill="#000"/><rect x="737" y="353" width="1" height="4" fill="#96464c"/><rect x="742" y="336" width="1" height="34" fill="#000"/><rect x="741" y="344" width="3" height="13" fill="#000"/><rect x="742" y="345" width="1" height="11" fill="#4f8a7e"/><rect x="747" y="335" width="1" height="25" fill="#000"/><rect x="746" y="344" width="3" height="7" fill="#000"/><rect x="747" y="345" width="1" height="5" fill="#96464c"/><rect x="752" y="339" width="1" height="30" fill="#000"/><rect x="751" y="350" width="3" height="6" fill="#000"/><rect x="752" y="351" width="1" height="4" fill="#96464c"/><rect x="757" y="335" width="1" height="33" fill="#000"/><rect x="756" y="338" width="3" height="19" fill="#000"/><rect x="757" y="339" width="1" height="17" fill="#4f8a7e"/><rect x="762" y="323" width="1" height="27" fill="#000"/><rect x="761" y="327" width="3" height="17" fill="#000"/><rect x="762" y="328" width="1" height="15" fill="#4f8a7e"/><rect x="767" y="316" width="1" height="27" fill="#000"/><rect x="766" y="327" width="3" height="10" fill="#000"/><rect x="767" y="328" width="1" height="8" fill="#96464c"/><rect x="773" y="326" width="1" height="31" fill="#000"/><rect x="772" y="337" width="3" height="14" fill="#000"/><rect x="773" y="338" width="1" height="12" fill="#96464c"/><rect x="778" y="332" width="1" height="51" fill="#000"/><rect x="777" y="338" width="3" height="11" fill="#000"/><rect x="778" y="339" width="1" height="9" fill="#4f8a7e"/><rect x="783" y="334" width="1" height="33" fill="#000"/><rect x="782" y="338" width="3" height="19" fill="#000"/><rect x="783" y="339" width="1" height="17" fill="#96464c"/><rect x="788" y="331" width="1" height="26" fill="#000"/><rect x="787" y="335" width="3" height="21" fill="#000"/><rect x="788" y="336" width="1" height="19" fill="#4f8a7e"/><rect x="793" y="327" width="1" height="20" fill="#000"/><rect x="792" y="337" width="3" height="4" fill="#000"/><rect x="793" y="338" width="1" height="2" fill="#96464c"/><rect x="798" y="336" width="1" height="28" fill="#000"/><rect x="797" y="341" width="3" height="11" fill="#000"/><rect x="798" y="342" width="1" height="9" fill="#96464c"/><rect x="803" y="319" width="1" height="33" fill="#000"/><rect x="802" y="320" width="3" height="32" fill="#000"/><rect x="803" y="321" width="1" height="30" fill="#4f8a7e"/><rect x="808" y="308" width="1" height="64" fill="#000"/><rect x="807" y="321" width="3" height="42" fill="#000"/><rect x="808" y="322" width="1" height="40" fill="#96464c"/><rect x="813" y="332" width="1" height="34" fill="#000"/><rect x="812" y="338" width="3" height="27" fill="#000"/><rect x="813" y="339" width="1" height="25" fill="#4f8a7e"/><rect x="818" y="333" width="1" height="27" fill="#000"/><rect x="817" y="338" width="3" height="11" fill="#000"/><rect x="818" y="339" width="1" height="9" fill="#96464c"/><rect x="823" y="325" width="1" height="26" fill="#000"/><rect x="822" y="348" width="3" height="2" fill="#000"/><rect x="828" y="346" width="1" height="24" fill="#000"/><rect x="827" y="348" width="3" height="15" fill="#000"/><rect x="828" y="349" width="1" height="13" fill="#96464c"/><rect x="833" y="348" width="1" height="19" fill="#000"/><rect x="832" y="358" width="3" height="7" fill="#000"/><rect x="833" y="359" width="1" height="5" fill="#4f8a7e"/><rect x="839" y="349" width="1" height="16" fill="#000"/><rect x="838" y="355" width="3" height="6" fill="#000"/><rect x="839" y="356" width="1" height="4" fill="#4f8a7e"/><rect x="844" y="303" width="1" height="54" fill="#000"/><rect x="843" y="321" width="3" height="35" fill="#000"/><rect x="844" y="322" width="1" height="33" fill="#4f8a7e"/><rect x="849" y="298" width="1" height="36" fill="#000"/><rect x="848" y="321" width="3" height="9" fill="#000"/><rect x="849" y="322" width="1" height="7" fill="#96464c"/><rect x="854" y="308" width="1" height="29" fill="#000"/><rect x="853" y="317" width="3" height="14" fill="#000"/><rect x="854" y="318" width="1" height="12" fill="#4f8a7e"/><rect x="859" y="315" width="1" height="50" fill="#000"/><rect x="858" y="316" width="3" height="33" fill="#000"/><rect x="859" y="317" width="1" height="31" fill="#96464c"/><rect x="864" y="314" width="1" height="36" fill="#000"/><rect x="863" y="325" width="3" height="21" fill="#000"/><rect x="864" y="326" width="1" height="19" fill="#96464c"/><rect x="869" y="343" width="1" height="37" fill="#000"/><rect x="868" y="345" width="3" height="4" fill="#000"/><rect x="869" y="346" width="1" height="2" fill="#96464c"/><rect x="874" y="341" width="1" height="16" fill="#000"/><rect x="873" y="346" width="3" height="5" fill="#000"/><rect x="874" y="347" width="1" height="3" fill="#4f8a7e"/><rect x="879" y="325" width="1" height="35" fill="#000"/><rect x="878" y="348" width="3" height="6" fill="#000"/><rect x="879" y="349" width="1" height="4" fill="#96464c"/><rect x="884" y="329" width="1" height="27" fill="#000"/><rect x="883" y="340" width="3" height="15" fill="#000"/><rect x="884" y="341" width="1" height="13" fill="#4f8a7e"/><rect x="889" y="337" width="1" height="15" fill="#000"/><rect x="888" y="342" width="3" height="7" fill="#000"/><rect x="889" y="343" width="1" height="5" fill="#96464c"/><rect x="894" y="344" width="1" height="37" fill="#000"/><rect x="893" y="350" width="3" height="27" fill="#000"/><rect x="894" y="351" width="1" height="25" fill="#96464c"/><rect x="899" y="358" width="1" height="46" fill="#000"/><rect x="898" y="360" width="3" height="16" fill="#000"/><rect x="899" y="361" width="1" height="14" fill="#4f8a7e"/><rect x="905" y="323" width="1" height="43" fill="#000"/><rect x="904" y="332" width="3" height="31" fill="#000"/><rect x="905" y="333" width="1" height="29" fill="#4f8a7e"/><rect x="910" y="322" width="1" height="32" fill="#000"/><rect x="909" y="332" width="3" height="2" fill="#000"/><rect x="915" y="320" width="1" height="20" fill="#000"/><rect x="914" y="334" width="3" height="5" fill="#000"/><rect x="915" y="335" width="1" height="3" fill="#96464c"/><rect x="920" y="333" width="1" height="13" fill="#000"/><rect x="919" y="337" width="3" height="6" fill="#000"/><rect x="920" y="338" width="1" height="4" fill="#96464c"/><rect x="925" y="304" width="1" height="40" fill="#000"/><rect x="924" y="304" width="3" height="39" fill="#000"/><rect x="925" y="305" width="1" height="37" fill="#4f8a7e"/><rect x="930" y="275" width="1" height="39" fill="#000"/><rect x="929" y="279" width="3" height="28" fill="#000"/><rect x="930" y="280" width="1" height="26" fill="#4f8a7e"/><rect x="935" y="274" width="1" height="16" fill="#000"/><rect x="934" y="277" width="3" height="11" fill="#000"/><rect x="935" y="278" width="1" height="9" fill="#96464c"/><rect x="940" y="286" width="1" height="31" fill="#000"/><rect x="939" y="287" width="3" height="28" fill="#000"/><rect x="940" y="288" width="1" height="26" fill="#96464c"/><rect x="945" y="306" width="1" height="35" fill="#000"/><rect x="944" y="313" width="3" height="21" fill="#000"/><rect x="945" y="314" width="1" height="19" fill="#96464c"/><rect x="950" y="324" width="1" height="47" fill="#000"/><rect x="949" y="335" width="3" height="24" fill="#000"/><rect x="950" y="336" width="1" height="22" fill="#96464c"/><rect x="955" y="346" width="1" height="24" fill="#000"/><rect x="954" y="352" width="3" height="7" fill="#000"/><rect x="955" y="353" width="1" height="5" fill="#4f8a7e"/><rect x="960" y="336" width="1" height="21" fill="#000"/><rect x="959" y="346" width="3" height="7" fill="#000"/><rect x="960" y="347" width="1" height="5" fill="#4f8a7e"/><rect x="965" y="259" width="1" height="41" fill="#000"/><rect x="964" y="263" width="3" height="28" fill="#000"/><rect x="965" y="264" width="1" height="26" fill="#4f8a7e"/><rect x="971" y="213" width="1" height="51" fill="#000"/><rect x="970" y="218" width="3" height="47" fill="#000"/><rect x="971" y="219" width="1" height="45" fill="#4f8a7e"/><rect x="976" y="186" width="1" height="35" fill="#000"/><rect x="975" y="194" width="3" height="25" fill="#000"/><rect x="976" y="195" width="1" height="23" fill="#4f8a7e"/><rect x="981" y="179" width="1" height="31" fill="#000"/><rect x="980" y="183" width="3" height="12" fill="#000"/><rect x="981" y="184" width="1" height="10" fill="#4f8a7e"/><rect x="986" y="178" width="1" height="61" fill="#000"/><rect x="985" y="187" width="3" height="53" fill="#000"/><rect x="986" y="188" width="1" height="51" fill="#96464c"/><rect x="991" y="202" width="1" height="21" fill="#000"/><rect x="990" y="206" width="3" height="13" fill="#000"/><rect x="991" y="207" width="1" height="11" fill="#4f8a7e"/><rect x="996" y="197" width="1" height="29" fill="#000"/><rect x="995" y="208" width="3" height="13" fill="#000"/><rect x="996" y="209" width="1" height="11" fill="#96464c"/><rect x="1001" y="218" width="1" height="28" fill="#000"/><rect x="1000" y="220" width="3" height="23" fill="#000"/><rect x="1001" y="221" width="1" height="21" fill="#96464c"/><rect x="1006" y="232" width="1" height="34" fill="#000"/><rect x="1005" y="241" width="3" height="20" fill="#000"/><rect x="1006" y="242" width="1" height="18" fill="#96464c"/><rect x="1011" y="254" width="1" height="37" fill="#000"/><rect x="1010" y="254" width="3" height="9" fill="#000"/><rect x="1011" y="255" width="1" height="7" fill="#4f8a7e"/><rect x="1016" y="238" width="1" height="26" fill="#000"/><rect x="1015" y="250" width="3" height="11" fill="#000"/><rect x="1016" y="251" width="1" height="9" fill="#4f8a7e"/><rect x="1021" y="210" width="1" height="48" fill="#000"/><rect x="1020" y="217" width="3" height="36" fill="#000"/><rect x="1021" y="218" width="1" height="34" fill="#4f8a7e"/><rect x="1026" y="213" width="1" height="16" fill="#000"/><rect x="1025" y="216" width="3" height="3" fill="#000"/><rect x="1026" y="217" width="1" height="1" fill="#4f8a7e"/><rect x="1032" y="191" width="1" height="29" fill="#000"/><rect x="1031" y="194" width="3" height="24" fill="#000"/><rect x="1032" y="195" width="1" height="22" fill="#4f8a7e"/></g><rect x="61" y="71" width="86" height="48" fill="#fff" fill-opacity="0.75"/><rect x="61" y="119" width="124" height="23.4" fill="#fff" fill-opacity="0.75"/><path d="M72.5,49.4 H84 V66.3 H72.5 A8.45,8.45 0 0 1 72.5,49.4 Z" fill="#ddf1ee"/><path d="M84,49.4 H95 A8.45,8.45 0 0 1 95,66.3 H84 Z" fill="#fbe0e6"/><circle cx="74.8" cy="57.8" r="4" fill="#089981"/><text x="92.9" y="63.3" font-size="17" fill="#962a5c" font-weight="bold" text-anchor="middle">≈</text><text x="112.0" y="62.8" font-size="12.5" fill="#131722" textLength="54.9" lengthAdjust="spacingAndGlyphs" stroke="#131722" stroke-width="0.25">O151.944</text><text x="173.9" y="62.8" font-size="12.5" fill="#131722" textLength="55.3" lengthAdjust="spacingAndGlyphs" stroke="#131722" stroke-width="0.25">H152.799</text><text x="235.4" y="62.8" font-size="12.5" fill="#131722" textLength="53.4" lengthAdjust="spacingAndGlyphs" stroke="#131722" stroke-width="0.25">L151.824</text><text x="294.2" y="62.8" font-size="12.5" fill="#131722" textLength="54.6" lengthAdjust="spacingAndGlyphs" stroke="#131722" stroke-width="0.25">C152.726</text><text x="355.5" y="62.8" font-size="12.5" fill="#131722" textLength="39.0" lengthAdjust="spacingAndGlyphs" stroke="#131722" stroke-width="0.25">+0.762</text><text x="398.5" y="62.8" font-size="12.5" fill="#131722" textLength="47.7" lengthAdjust="spacingAndGlyphs" stroke="#131722" stroke-width="0.25">(+0.50%)</text><text x="65.7" y="87.3" font-size="12.5" fill="#131722" textLength="22.9" lengthAdjust="spacingAndGlyphs" stroke="#131722" stroke-width="0.25">EMA</text><text x="97.7" y="87.3" font-size="12.5" fill="#dd5a66" textLength="44.0" lengthAdjust="spacingAndGlyphs" stroke="#dd5a66" stroke-width="0.25">149.312</text><text x="65.7" y="111.0" font-size="12.5" fill="#131722" textLength="22.9" lengthAdjust="spacingAndGlyphs" stroke="#131722" stroke-width="0.25">EMA</text><text x="97.7" y="111.0" font-size="12.5" fill="#4747b8" textLength="44.0" lengthAdjust="spacingAndGlyphs" stroke="#4747b8" stroke-width="0.25">148.359</text><text x="65.7" y="134.8" font-size="12.5" fill="#131722" textLength="58.2" lengthAdjust="spacingAndGlyphs" stroke="#131722" stroke-width="0.25">Vol · Ticks</text><text x="133.2" y="134.8" font-size="12.5" fill="#2a9d8f" textLength="46.9" lengthAdjust="spacingAndGlyphs" stroke="#2a9d8f" stroke-width="0.25">180.43 K</text><rect x="64.5" y="145.5" width="28" height="20" rx="3" fill="#fff" fill-opacity="0.8" stroke="#e0e3eb" stroke-width="1"/><path d="M74.5,158 L78.5,154 L82.5,158" fill="none" stroke="#131722" stroke-width="1.5"/><g><path d="M68.1,584.1 H79.8 V598.7 H74.1 V589.7 H68.1 Z" fill="#131722" stroke="#fff" stroke-width="3" paint-order="stroke"/><circle cx="84.9" cy="587" r="2.7" fill="#131722" stroke="#fff" stroke-width="3" paint-order="stroke"/><path d="M91.7,584.1 H97.7 L91.9,598.7 H85.4 Z" fill="#131722" stroke="#fff" stroke-width="3" paint-order="stroke"/><text x="104.5" y="598.5" font-size="19" fill="#131722" font-weight="bold" textLength="121.5" lengthAdjust="spacingAndGlyphs" stroke="#fff" stroke-width="2.5" paint-order="stroke">TradingView</text></g><circle cx="1032.3" cy="550.2" r="9.5" fill="#fff" stroke="#7b35b5" stroke-width="1.4"/><path d="M1033.8,544.5 L1029.3,551.3 H1032.6 L1030.8,556 L1035.6,549 H1032.3 Z" fill="#7b35b5"/><circle cx="1032.3" cy="574.8" r="9.5" fill="#fff" stroke="#c94a55" stroke-width="1.4"/><clipPath id="flag"><circle cx="1032.3" cy="574.8" r="8"/></clipPath><g clip-path="url(#flag)"><rect x="1023" y="568.6" width="19" height="1.8" fill="#d9505a"/><rect x="1023" y="572.8" width="19" height="2" fill="#d9505a"/><rect x="1023" y="578.6" width="19" height="2.2" fill="#d9505a"/><rect x="1023" y="566" width="9.8" height="9.5" fill="#3b72d8"/><circle cx="1025.2" cy="568.3" r="0.55" fill="#fff"/><circle cx="1027.8" cy="568.3" r="0.55" fill="#fff"/><circle cx="1030.4" cy="568.3" r="0.55" fill="#fff"/><circle cx="1025.2" cy="571.3" r="0.55" fill="#fff"/><circle cx="1027.8" cy="571.3" r="0.55" fill="#fff"/><circle cx="1030.4" cy="571.3" r="0.55" fill="#fff"/><circle cx="1025.2" cy="574.0" r="0.55" fill="#fff"/><circle cx="1027.8" cy="574.0" r="0.55" fill="#fff"/><circle cx="1030.4" cy="574.0" r="0.55" fill="#fff"/></g><circle cx="1053.2" cy="599.7" r="9.5" fill="#fbeef0" stroke="#c94a55" stroke-width="1.4"/><circle cx="1045.6" cy="599.7" r="9.5" fill="#fbeef0" stroke="#c94a55" stroke-width="1.4"/><circle cx="1039.6" cy="599.7" r="9.5" fill="#fbeef0" stroke="#c94a55" stroke-width="1.4"/><circle cx="1031.6" cy="599.7" r="9.5" fill="#fbeef0" stroke="#c94a55" stroke-width="1.4"/><circle cx="1031.6" cy="599.7" r="3" fill="#e0505a"/><text x="1183.5" y="102.8" font-size="12.2" fill="#131722" textLength="41.0" lengthAdjust="spacingAndGlyphs" stroke="#131722" stroke-width="0.25">156.000</text><text x="1183.5" y="160.9" font-size="12.2" fill="#131722" textLength="41.0" lengthAdjust="spacingAndGlyphs" stroke="#131722" stroke-width="0.25">154.000</text><text x="1183.5" y="219.0" font-size="12.2" fill="#131722" textLength="41.0" lengthAdjust="spacingAndGlyphs" stroke="#131722" stroke-width="0.25">152.000</text><text x="1183.5" y="277.2" font-size="12.2" fill="#131722" textLength="41.0" lengthAdjust="spacingAndGlyphs" stroke="#131722" stroke-width="0.25">150.000</text><text x="1183.5" y="335.3" font-size="12.2" fill="#131722" textLength="41.0" lengthAdjust="spacingAndGlyphs" stroke="#131722" stroke-width="0.25">148.000</text><text x="1183.5" y="393.4" font-size="12.2" fill="#131722" textLength="41.0" lengthAdjust="spacingAndGlyphs" stroke="#131722" stroke-width="0.25">146.000</text><text x="1183.5" y="451.5" font-size="12.2" fill="#131722" textLength="41.0" lengthAdjust="spacingAndGlyphs" stroke="#131722" stroke-width="0.25">144.000</text><text x="1183.5" y="509.6" font-size="12.2" fill="#131722" textLength="41.0" lengthAdjust="spacingAndGlyphs" stroke="#131722" stroke-width="0.25">142.000</text><text x="1183.5" y="567.8" font-size="12.2" fill="#131722" textLength="41.0" lengthAdjust="spacingAndGlyphs" stroke="#131722" stroke-width="0.25">140.000</text><rect x="1125" y="186" width="49" height="16.5" rx="2" fill="#12997f"/><text x="1129.5" y="198.4" font-size="11.5" fill="#fff" font-weight="bold" textLength="40.0" lengthAdjust="spacingAndGlyphs">USDJPY</text><rect x="1175" y="186" width="60" height="30.2" rx="2" fill="#12997f"/><text x="1183.5" y="198.4" font-size="11.5" fill="#fff" font-weight="bold" textLength="41.0" lengthAdjust="spacingAndGlyphs">152.726</text><text x="1182.5" y="213.4" font-size="11.5" fill="#fff" font-weight="bold" textLength="42.0" lengthAdjust="spacingAndGlyphs">03:47:19</text><rect x="1175" y="265.4" width="56" height="16" rx="2" fill="#2962ff"/><text x="1183.8" y="277.5" font-size="11.5" fill="#fff" font-weight="bold" textLength="41.0" lengthAdjust="spacingAndGlyphs">150.000</text><rect x="1175" y="285.4" width="56" height="16" rx="2" fill="#f23645"/><text x="1183.8" y="297.5" font-size="11.5" fill="#fff" font-weight="bold" textLength="41.0" lengthAdjust="spacingAndGlyphs">149.312</text><rect x="1175" y="312.5" width="56" height="16" rx="2" fill="#2b2be6"/><text x="1183.8" y="324.6" font-size="11.5" fill="#fff" font-weight="bold" textLength="41.0" lengthAdjust="spacingAndGlyphs">148.359</text><rect x="1175" y="580.5" width="57.7" height="16" rx="2" fill="#26a69a"/><text x="1182.0" y="592.6" font-size="11.5" fill="#fff" font-weight="bold" textLength="46.5" lengthAdjust="spacingAndGlyphs">180.43 K</text><g clip-path="url(#taxis)"><text x="77.3" y="631.2" font-size="11.8" fill="#131722" text-anchor="middle" stroke="#131722" stroke-width="0.55">Feb</text><text x="178.9" y="631.2" font-size="11.8" fill="#131722" text-anchor="middle" stroke="#131722" stroke-width="0.55">Mar</text><text x="285.5" y="631.2" font-size="11.8" fill="#131722" text-anchor="middle" stroke="#131722" stroke-width="0.55">Apr</text><text x="397.3" y="631.2" font-size="11.8" fill="#131722" text-anchor="middle" stroke="#131722" stroke-width="0.55">May</text><text x="509.0" y="631.2" font-size="11.8" fill="#131722" text-anchor="middle" stroke="#131722" stroke-width="0.55">Jun</text><text x="615.6" y="631.2" font-size="11.8" fill="#131722" text-anchor="middle" stroke="#131722" stroke-width="0.55">Jul</text><text x="732.4" y="631.2" font-size="11.8" fill="#131722" text-anchor="middle" stroke="#131722" stroke-width="0.55">Aug</text><text x="839.0" y="631.2" font-size="11.8" fill="#131722" text-anchor="middle" stroke="#131722" stroke-width="0.55">Sep</text><text x="950.8" y="631.2" font-size="11.8" fill="#131722" text-anchor="middle" stroke="#131722" stroke-width="0.55">Oct</text><text x="1067.6" y="631.2" font-size="11.8" fill="#131722" text-anchor="middle" stroke="#131722" stroke-width="0.55">Nov</text><text x="1169.1" y="631.2" font-size="11.8" fill="#131722" text-anchor="middle" stroke="#131722" stroke-width="0.55">Dec</text></g><polygon points="1214.40,627.60 1210.90,633.66 1203.90,633.66 1200.40,627.60 1203.90,621.54 1210.90,621.54" fill="none" stroke="#131722" stroke-width="1.1" stroke-linejoin="round"/><circle cx="1207.4" cy="627.6" r="2.6" fill="none" stroke="#131722" stroke-width="1.1"/><rect x="56" y="641" width="1184" height="1" fill="#e0e3eb"/><text x="70.8" y="665.7" font-size="13.5" fill="#131722" textLength="14.5" lengthAdjust="spacingAndGlyphs" stroke="#131722" stroke-width="0.25">1D</text><text x="98.4" y="665.7" font-size="13.5" fill="#131722" textLength="15.2" lengthAdjust="spacingAndGlyphs" stroke="#131722" stroke-width="0.25">5D</text><text x="126.6" y="665.7" font-size="13.5" fill="#131722" textLength="16.3" lengthAdjust="spacingAndGlyphs" stroke="#131722" stroke-width="0.25">1M</text><text x="155.5" y="665.7" font-size="13.5" fill="#131722" textLength="16.7" lengthAdjust="spacingAndGlyphs" stroke="#131722" stroke-width="0.25">3M</text><text x="184.1" y="665.7" font-size="13.5" fill="#131722" textLength="17.0" lengthAdjust="spacingAndGlyphs" stroke="#131722" stroke-width="0.25">6M</text><text x="214.1" y="665.7" font-size="13.5" fill="#131722" textLength="23.3" lengthAdjust="spacingAndGlyphs" stroke="#131722" stroke-width="0.25">YTD</text><text x="249.5" y="665.7" font-size="13.5" fill="#131722" textLength="14.6" lengthAdjust="spacingAndGlyphs" stroke="#131722" stroke-width="0.25">1Y</text><text x="278.0" y="665.7" font-size="13.5" fill="#131722" textLength="14.5" lengthAdjust="spacingAndGlyphs" stroke="#131722" stroke-width="0.25">5Y</text><text x="304.7" y="665.7" font-size="13.5" fill="#131722" textLength="16.3" lengthAdjust="spacingAndGlyphs" stroke="#131722" stroke-width="0.25">All</text><rect x="332" y="650" width="1" height="21.5" fill="#e0e3eb"/><g fill="none" stroke="#131722" stroke-width="1.2"><path d="M349.5,653.5 H362.5 A2,2 0 0 1 364.5,655.5 V666.5 A2,2 0 0 1 362.5,668.5 H353"/><path d="M347.5,661 V655.5 A2,2 0 0 1 349.5,653.5"/><path d="M347.5,658 H364.5"/><path d="M351.5,651 V655.5 M360.5,651 V655.5"/><path d="M345.5,665 H354.5 M351.5,662 L354.5,665 L351.5,668"/></g><text x="1146.3" y="665.8" font-size="13.5" fill="#131722" textLength="83.0" lengthAdjust="spacingAndGlyphs" stroke="#131722" stroke-width="0.25">17:12:40 UTC</text><text x="72.3" y="707.9" font-size="13.5" fill="#131722" textLength="67.4" lengthAdjust="spacingAndGlyphs" stroke="#131722" stroke-width="0.25">Pine Editor</text><text x="172.8" y="707.9" font-size="13.5" fill="#131722" textLength="83.2" lengthAdjust="spacingAndGlyphs" stroke="#131722" stroke-width="0.25">Trading Panel</text><path d="M1177.5,706.5 L1185.5,698.5 L1193.5,706.5" fill="none" stroke="#131722" stroke-width="1.3"/><g fill="none" stroke="#131722" stroke-width="1.3"><path d="M1213.5,699.5 V697.5 A2,2 0 0 1 1215.5,695.5 H1226.5 A2,2 0 0 1 1228.5,697.5 V699.5"/><path d="M1213.5,706 V708.5 A2,2 0 0 1 1215.5,710.5 H1226.5 A2,2 0 0 1 1228.5,708.5 V706"/></g><circle cx="25.6" cy="19.1" r="13" fill="#a57d6a"/><text x="25.6" y="24.8" font-size="16" fill="#fff" text-anchor="middle" stroke="#fff" stroke-width="0.25">T</text><circle cx="41" cy="10.4" r="8.8" fill="#e8414f" stroke="#fff" stroke-width="1.2"/><text x="41.0" y="13.7" font-size="9.5" fill="#fff" font-weight="bold" text-anchor="middle">11</text><circle cx="69.6" cy="17.6" r="5.3" fill="none" stroke="#131722" stroke-width="1.6"/><path d="M73.4,21.4 L77.6,25.6" stroke="#131722" stroke-width="1.7" stroke-linecap="round"/><text x="84.5" y="23.8" font-size="13" fill="#131722" font-weight="bold" textLength="48.6" lengthAdjust="spacingAndGlyphs">USDJPY</text><circle cx="170.3" cy="19.1" r="9.1" fill="none" stroke="#131722" stroke-width="1.2"/><path d="M165.8,19.1 H174.8 M170.3,14.6 V23.6" stroke="#131722" stroke-width="1.2"/><rect x="194.1" y="8" width="1" height="22" fill="#e6e6e6"/><rect x="240.1" y="8" width="1" height="22" fill="#e6e6e6"/><rect x="286.9" y="8" width="1" height="22" fill="#e6e6e6"/><rect x="467.3" y="8" width="1" height="22" fill="#e6e6e6"/><rect x="642.1" y="8" width="1" height="22" fill="#e6e6e6"/><rect x="1054.0" y="8" width="1" height="22" fill="#e6e6e6"/><text x="213.7" y="23.8" font-size="13" fill="#131722" textLength="8.1" lengthAdjust="spacingAndGlyphs" stroke="#131722" stroke-width="0.25">D</text><g fill="none" stroke="#131722" stroke-width="1.1"><path d="M260.5,9.5 V28.5 M268.5,12 V24.5"/><rect x="258.3" y="12.8" width="4.4" height="12" fill="#fff"/><rect x="266.3" y="14.8" width="4.4" height="6.8" fill="#fff"/></g><g fill="none" stroke="#131722" stroke-width="1.2" stroke-linejoin="round"><path d="M302.8,17.5 L308,12 L313,15.3 L320,10"/><path d="M302.8,27.3 H320.2"/><rect x="303.3" y="23" width="4" height="4.3"/><rect x="309.3" y="20" width="4" height="7.3"/><rect x="315.3" y="18.5" width="4" height="8.8"/></g><text x="329.4" y="23.8" font-size="13" fill="#131722" textLength="60.9" lengthAdjust="spacingAndGlyphs" stroke="#131722" stroke-width="0.25">Indicators</text><path d="M409.1,16.9 L413,21.1 L416.9,16.9" fill="none" stroke="#131722" stroke-width="1.1"/><g fill="none" stroke="#131722" stroke-width="1.2"><rect x="436.4" y="11.7" width="6" height="6" rx="1.6"/><rect x="445.5" y="11.7" width="6" height="6" rx="1.6"/><rect x="436.4" y="20.5" width="6" height="6" rx="1.6"/><rect x="445.5" y="20.5" width="6" height="6" rx="1.6"/></g><g fill="none" stroke="#131722" stroke-width="1.2" stroke-linecap="round"><path d="M497.9,22.6 A8.1,8.1 0 1 0 492.2,27.9"/><path d="M489.9,15 V20.2 H486.6"/><path d="M481.4,12.6 L484.4,9.8 M498.4,12.6 L495.4,9.8"/><path d="M496.6,20.8 V29.6 M492.2,25.2 H501"/></g><text x="509.2" y="23.8" font-size="13" fill="#131722" textLength="30.8" lengthAdjust="spacingAndGlyphs" stroke="#131722" stroke-width="0.25">Alert</text><g fill="none" stroke="#131722" stroke-width="1.2" stroke-linejoin="round"><path d="M569.5,13.3 L562.6,19.2 L569.5,25.1 Z"/><path d="M577,13.3 L570.1,19.2 L577,25.1 Z"/></g><text x="587.7" y="23.8" font-size="13" fill="#131722" textLength="40.1" lengthAdjust="spacingAndGlyphs" stroke="#131722" stroke-width="0.25">Replay</text><path d="M672,23.6 V22 A4.3,4.3 0 0 0 667.7,17.7 H660 M663.8,14 L660,17.7 L663.8,21.4" fill="none" stroke="#131722" stroke-width="1.3"/><path d="M697.6,23.6 V22 A4.3,4.3 0 0 1 701.9,17.7 H709.6 M705.8,14 L709.6,17.7 L705.8,21.4" fill="none" stroke="#a3a6af" stroke-width="1.3"/><rect x="928.6" y="11.5" width="18" height="16.2" rx="2.2" fill="none" stroke="#131722" stroke-width="1.3"/><text x="961.9" y="19.2" font-size="13.5" fill="#131722" textLength="57.9" lengthAdjust="spacingAndGlyphs" stroke="#131722" stroke-width="0.25">Unnamed</text><text x="981.0" y="30.3" font-size="9.5" fill="#4b6fc4" textLength="19.7" lengthAdjust="spacingAndGlyphs" stroke="#4b6fc4" stroke-width="0.25">Save</text><path d="M1034.1,16.099999999999998 L1038,20.3 L1041.9,16.099999999999998" fill="none" stroke="#131722" stroke-width="1.1"/><g fill="none" stroke="#131722" stroke-width="1.2" stroke-linejoin="round"><path d="M1077,11.6 A7,7 0 1 0 1083.3,20.8"/><path d="M1082.5,23 L1087,27.5"/><path d="M1080.8,8.5 L1076.6,15.8 H1080.2 L1078.8,20.8 L1083.5,13.3 H1080 Z"/></g><polygon points="1126.00,18.90 1120.90,27.73 1110.70,27.73 1105.60,18.90 1110.70,10.07 1120.90,10.07" fill="none" stroke="#131722" stroke-width="1.3" stroke-linejoin="round"/><circle cx="1115.8" cy="18.9" r="3.1" fill="none" stroke="#131722" stroke-width="1.3"/><g fill="none" stroke="#131722" stroke-width="1.3"><path d="M1146.5,15.5 V13.5 A2,2 0 0 1 1148.5,11.5 H1150.5"/><path d="M1157.8,11.5 H1159.8 A2,2 0 0 1 1161.8,13.5 V15.5"/><path d="M1161.8,22.2 V24.2 A2,2 0 0 1 1159.8,26.2 H1157.8"/><path d="M1150.5,26.2 H1148.5 A2,2 0 0 1 1146.5,24.2 V22.2"/></g><g fill="none" stroke="#131722" stroke-width="1.3" stroke-linejoin="round"><path d="M1183.5,13.7 H1187.2 L1189,10.9 H1194 L1195.8,13.7 H1199.2 A1.8,1.8 0 0 1 1201,15.5 V24.3 A1.8,1.8 0 0 1 1199.2,26.1 H1183.5 A1.8,1.8 0 0 1 1181.7,24.3 V15.5 A1.8,1.8 0 0 1 1183.5,13.7 Z"/><circle cx="1191.3" cy="19.6" r="3.6"/></g><rect x="1215.1" y="4.9" width="68.7" height="27.8" rx="13.9" fill="#262626"/><text x="1227.4" y="23.6" font-size="13.5" fill="#fff" textLength="44.5" lengthAdjust="spacingAndGlyphs" stroke="#fff" stroke-width="0.5">Publish</text><rect x="9.7" y="50.3" width="33" height="33" rx="6" fill="#ebebeb"/><path d="M20.6,59.2 V72.4 L23.8,69.4 L26.4,75.2 L28.9,74.1 L26.4,68.5 L30.7,68.3 Z" fill="none" stroke="#131722" stroke-width="1.2" stroke-linecap="round" stroke-linejoin="round"/><g fill="none" stroke="#131722" stroke-width="1.2" stroke-linecap="round" stroke-linejoin="round"><circle cx="18.6" cy="110.6" r="1.9"/><circle cx="33.4" cy="96.6" r="1.9"/><path d="M20,109.3 L32,97.9"/></g><g fill="none" stroke="#131722" stroke-width="1.2" stroke-linecap="round" stroke-linejoin="round"><path d="M15.5,133.6 H36.5 M15.5,139.3 H33 M15.5,145 H36.5 M19.2,150.7 H36.5"/><circle cx="35" cy="139.3" r="1.9"/><circle cx="17.2" cy="150.7" r="1.9"/></g><g fill="none" stroke="#131722" stroke-width="1.2" stroke-linecap="round" stroke-linejoin="round"><path d="M17.3,188.6 L20.1,172.3 L24.8,179.8 L32.4,172.3 L35.5,186.1 L24.8,179.8 L17.3,188.6"/><circle cx="17.3" cy="188.6" r="1.9" fill="#fff"/><circle cx="20.1" cy="172.3" r="1.9" fill="#fff"/><circle cx="24.8" cy="179.8" r="1.9" fill="#fff"/><circle cx="32.4" cy="172.3" r="1.9" fill="#fff"/><circle cx="35.5" cy="186.1" r="1.9" fill="#fff"/></g><g fill="none" stroke="#131722" stroke-width="1.2" stroke-linecap="round" stroke-linejoin="round"><circle cx="16.8" cy="211.2" r="1.9"/><circle cx="16.8" cy="221.6" r="1.9"/><circle cx="16.8" cy="227.2" r="1.9"/><circle cx="34.2" cy="221.6" r="1.9"/><path d="M18.8,211.2 H36 M18.8,221.6 H32.3 M18.8,227.2 H36"/><path d="M22,218.5 L34,214" stroke-dasharray="1 1.8"/></g><g fill="none" stroke="#131722" stroke-width="1.2" stroke-linecap="round" stroke-linejoin="round"><path d="M14.3,265.4 L20.3,256.5 C22,254.2 26.5,254 28.6,256.5 C30.5,259 29.5,263.5 25,265.4 Z"/><path d="M30.4,249.3 C28,250.5 28,253.8 30.5,255 C32,255.8 33.5,255.2 34.5,254.2 L39.4,249.3"/></g><g fill="none" stroke="#131722" stroke-width="1.2" stroke-linecap="round" stroke-linejoin="round"><path d="M19.3,285.6 V284.6 H33.8 V285.6 M26.5,284.8 V303.8 M23.6,303.8 H29.4"/></g><g fill="none" stroke="#131722" stroke-width="1.2" stroke-linecap="round" stroke-linejoin="round"><circle cx="25.8" cy="333.3" r="10.5"/><path d="M22,336 Q25.8,339.6 29.6,336"/></g><circle cx="22.6" cy="330.4" r="1.1" fill="#131722"/><circle cx="29" cy="330.4" r="1.1" fill="#131722"/><rect x="8" y="358.3" width="36" height="1" fill="#e6e6e6"/><g fill="none" stroke="#131722" stroke-width="1.2" stroke-linecap="round" stroke-linejoin="round" transform="rotate(-45 26.1 384)"><rect x="13.3" y="380" width="25.6" height="8" rx="1"/><path d="M17.5,380 V383 M21.5,380 V384.5 M25.5,380 V383 M29.5,380 V384.5 M33.5,380 V383"/></g><g fill="none" stroke="#131722" stroke-width="1.2" stroke-linecap="round" stroke-linejoin="round"><circle cx="24.3" cy="419.6" r="7.6"/><path d="M29.8,425.1 L34.2,429.5 M24.3,416.3 V422.9 M21,419.6 H27.6"/></g><rect x="8" y="446.4" width="36" height="1" fill="#e6e6e6"/><g fill="none" stroke="#131722" stroke-width="1.2" stroke-linecap="round" stroke-linejoin="round"><path d="M18.6,482 V471.8 A7.4,7.4 0 0 1 33.4,471.8 V482 H29.4 V471.8 A3.4,3.4 0 0 0 22.6,471.8 V482 Z M18.6,478 H22.6 M29.4,478 H33.4"/></g><g fill="none" stroke="#131722" stroke-width="1.2" stroke-linecap="round" stroke-linejoin="round"><path d="M16.6,518.8 L17.3,514.8 L27.4,504.7 L30.7,508 L20.6,518.1 Z M25.4,506.7 L28.7,510"/><rect x="29.3" y="515.5" width="7.4" height="6" rx="1"/><path d="M31,515.5 V513.6 A2,2 0 0 1 35,513.6"/></g><g fill="none" stroke="#131722" stroke-width="1.2" stroke-linecap="round" stroke-linejoin="round"><rect x="19.8" y="548.5" width="12.6" height="10.3" rx="1.6"/><path d="M22.6,548.5 V544.8 A3.5,3.5 0 0 1 29.4,543.6"/></g><circle cx="26.1" cy="553.6" r="1.1" fill="#131722"/><g fill="none" stroke="#131722" stroke-width="1.2" stroke-linecap="round" stroke-linejoin="round"><path d="M16.4,583.2 C19.5,577.6 30.6,577.6 33.7,583.2 C30.6,588.8 19.5,588.8 16.4,583.2 Z"/><circle cx="25" cy="583.2" r="2.8"/><path d="M27.8,596.6 C27.6,594 30,592.4 32,593.6 C32.8,595.6 30.4,597.4 27.8,596.6 Z M32.5,593 L35.8,590.6"/></g><rect x="8" y="611.8" width="36" height="1" fill="#e6e6e6"/><g fill="none" stroke="#131722" stroke-width="1.2" stroke-linecap="round" stroke-linejoin="round"><path d="M16.8,630.3 H35.3 M23,630.3 V627.9 H29.1 V630.3 M18.8,630.3 L20.3,648.4 H31.8 L33.3,630.3"/></g><g fill="none" stroke="#131722" stroke-width="1.2" stroke-linecap="round" stroke-linejoin="round"><path d="M1257.6,55.4 H1276.6 V77.6 L1267.1,73.2 L1257.6,77.6 Z M1261.3,60.4 H1272.9 M1261.3,64.5 H1272.9 M1261.3,68.5 H1272.9"/></g><g fill="none" stroke="#131722" stroke-width="1.2" stroke-linecap="round" stroke-linejoin="round"><circle cx="1267.1" cy="112.4" r="10.2"/><path d="M1267.1,105.8 V113 H1262.8 M1255.6,101.6 L1259.4,98.3 M1278.6,101.6 L1274.8,98.3"/></g><g fill="none" stroke="#131722" stroke-width="1.2" stroke-linecap="round" stroke-linejoin="round"><path d="M1256,153.6 L1267.1,147.6 L1278.2,153.6 L1267.1,159.6 Z M1256,159.6 L1267.1,165.8 L1278.2,159.6"/></g><g fill="none" stroke="#131722" stroke-width="1.2" stroke-linecap="round" stroke-linejoin="round"><path d="M1257.2,192.5 H1272 A1.5,1.5 0 0 1 1273.5,194 V204.6 A1.5,1.5 0 0 1 1272,206.1 H1262.1 L1257.2,210.3 Z"/><path d="M1275.8,199.2 H1277.1 V216.1 L1273.1,212.4 H1263.9 V208.2"/></g><g fill="none" stroke="#131722" stroke-width="1.2" stroke-linecap="round" stroke-linejoin="round"><circle cx="1267.1" cy="502.9" r="13.1"/><circle cx="1267.1" cy="502.9" r="7.2"/><path d="M1267.1,502.9 L1275.9,494.1"/></g><circle cx="1267.1" cy="502.9" r="2.3" fill="#131722"/><g fill="none" stroke="#131722" stroke-width="1.2" stroke-linecap="round" stroke-linejoin="round"><rect x="1255.8" y="540" width="22.8" height="20.8" rx="2.6"/><path d="M1255.8,546.3 H1278.6"/><rect x="1259.7" y="537" width="3.3" height="5.6" rx="1.2" fill="#fff"/><rect x="1271.4" y="537" width="3.3" height="5.6" rx="1.2" fill="#fff"/></g><circle cx="1267.1" cy="594.6" r="16.8" fill="#262626"/><rect x="1260.4" y="587.9" width="3.6" height="3.6" rx="0.8" fill="#fff"/><rect x="1265.5" y="587.9" width="3.6" height="3.6" rx="0.8" fill="#fff"/><rect x="1270.6" y="587.9" width="3.6" height="3.6" rx="0.8" fill="#fff"/><rect x="1260.4" y="593.0" width="3.6" height="3.6" rx="0.8" fill="#fff"/><rect x="1265.5" y="593.0" width="3.6" height="3.6" rx="0.8" fill="#fff"/><rect x="1270.6" y="593.0" width="3.6" height="3.6" rx="0.8" fill="#fff"/><rect x="1260.4" y="598.1" width="3.6" height="3.6" rx="0.8" fill="#fff"/><rect x="1265.5" y="598.1" width="3.6" height="3.6" rx="0.8" fill="#fff"/><rect x="1270.6" y="598.1" width="3.6" height="3.6" rx="0.8" fill="#fff"/><rect x="1250" y="622.5" width="32" height="1" fill="#e6e6e6"/><g fill="none" stroke="#131722" stroke-width="1.2" stroke-linecap="round" stroke-linejoin="round"><circle cx="1258.2" cy="659.6" r="1.6"/><path d="M1256.5,652.3 A8.9,8.9 0 0 1 1265.4,661.2 M1256.5,646.3 A14.9,14.9 0 0 1 1271.4,661.2 M1256.5,640.3 A20.9,20.9 0 0 1 1277.4,661.2"/></g><circle cx="1276.8" cy="640.7" r="7.9" fill="#e8414f" stroke="#fff" stroke-width="1.2"/><text x="1276.8" y="644.4" font-size="10.5" fill="#fff" font-weight="bold" text-anchor="middle">2</text><g fill="none" stroke="#131722" stroke-width="1.2" stroke-linecap="round" stroke-linejoin="round"><path d="M1278.78,692.01 A13,13 0 0 1 1257.81,706.69 M1254.44,700.86 A13,13 0 0 1 1273.5,686.24"/><path d="M1263.1,693.6 A3.95,3.95 0 1 1 1269.1,697 C1267.7,697.9 1267,698.8 1267,700.4"/></g><circle cx="1267" cy="703.6" r="1" fill="none" stroke="#131722" stroke-width="1"/><path d="M1277.8,684.0 Q1278.0159999999998,687.384 1281.3999999999999,687.6 Q1278.0159999999998,687.816 1277.8,691.2 Q1277.584,687.816 1274.2,687.6 Q1277.584,687.384 1277.8,684.0 Z" fill="#fff" stroke="#131722" stroke-width="1"/><path d="M1255.3,701.5999999999999 Q1255.492,704.608 1258.5,704.8 Q1255.492,704.992 1255.3,708.0 Q1255.108,704.992 1252.1,704.8 Q1255.108,704.608 1255.3,701.5999999999999 Z" fill="#fff" stroke="#131722" stroke-width="1"/><path d="M0,714 A8,8 0 0 0 8,722 H0 Z" fill="#000"/><path d="M1289,714 A8,8 0 0 1 1281,722 H1289 Z" fill="#000"/>
</svg>
</body></html>
